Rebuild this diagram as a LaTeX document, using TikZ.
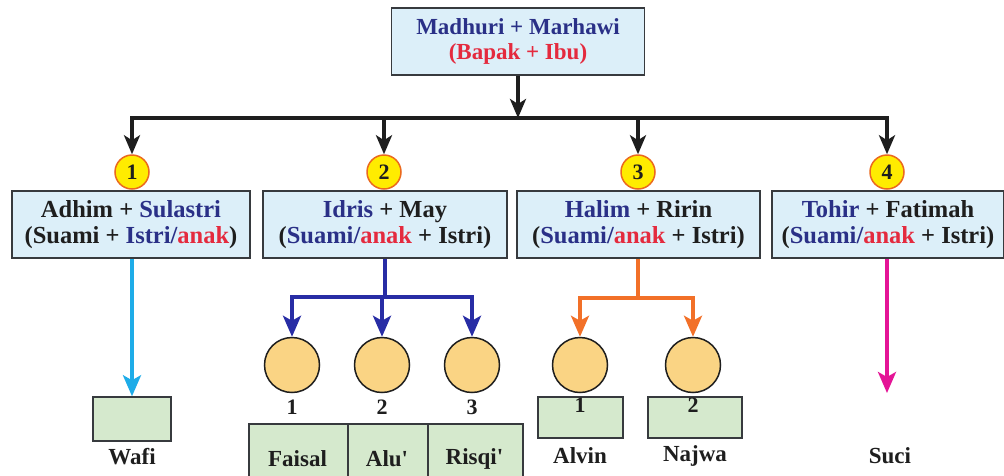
\documentclass[tikz,border=0pt]{standalone}
\usepackage{fontspec}
\setmainfont{Liberation Serif}
\usetikzlibrary{arrows.meta}
\definecolor{boxfill}{RGB}{220,239,249}
\definecolor{boxdraw}{RGB}{55,58,62}
\definecolor{nblue}{RGB}{42,48,135}
\definecolor{nred}{RGB}{228,42,62}
\definecolor{nblack}{RGB}{30,30,30}
\definecolor{gfill}{RGB}{213,233,205}
\definecolor{cfill}{RGB}{250,212,132}
\definecolor{ycirc}{RGB}{255,236,0}
\definecolor{ocirc}{RGB}{235,105,30}
\definecolor{lcyan}{RGB}{30,172,232}
\definecolor{lblue}{RGB}{40,45,165}
\definecolor{lorange}{RGB}{242,112,40}
\definecolor{lmag}{RGB}{228,20,150}
\begin{document}
\begin{tikzpicture}[x=1pt,y=-1pt,
  every node/.style={text=nblack},
  fam/.style={draw=boxdraw, line width=1.6pt, fill=boxfill, minimum height=67pt,
    align=center, inner sep=1pt, font=\bfseries\fontsize{24.5}{25.5}\selectfont},
  numc/.style={circle, fill=ycirc, draw=ocirc, line width=1.5pt, minimum size=34pt,
    inner sep=0pt, font=\bfseries\fontsize{22}{22}\selectfont},
  kid/.style={circle, fill=cfill, draw=nblack, line width=1.5pt, minimum size=55pt, inner sep=0pt},
  gbox/.style={draw=boxdraw, line width=1.5pt, fill=gfill, inner sep=0pt},
  lbl/.style={font=\bfseries\fontsize{23}{23}\selectfont, inner sep=0pt},
  knum/.style={font=\bfseries\fontsize{22}{22}\selectfont, inner sep=0pt},
  blk/.style={draw=nblack, line width=3.5pt},
  blkarr/.style={blk, -{Stealth[length=19pt,width=16pt,inset=5pt]}},
  colarr/.style={line width=3.5pt, -{Stealth[length=21pt,width=18pt,inset=5pt]}}
]
\useasboundingbox (0,0) rectangle (1004,475);
\fill[white] (0,0) rectangle (1004,475);

% top box
\node[fam, minimum width=253pt, font=\bfseries\fontsize{23}{25}\selectfont] (top) at (518,41.5)
  {\textcolor{nblue}{Madhuri + Marhawi}\\\textcolor{nred}{(Bapak + Ibu)}};

% family boxes
\node[fam, minimum width=238pt] (b1) at (131,224.5)
  {Adhim + \textcolor{nblue}{Sulastri}\\(Suami + \textcolor{nblue}{Istri/}\textcolor{nred}{anak})};
\node[fam, minimum width=244pt] (b2) at (385,224.5)
  {\textcolor{nblue}{Idris} + May\\(\textcolor{nblue}{Suami/}\textcolor{nred}{anak} + Istri)};
\node[fam, minimum width=243pt] (b3) at (638.5,224.5)
  {\textcolor{nblue}{Halim} + Ririn\\(\textcolor{nblue}{Suami/}\textcolor{nred}{anak} + Istri)};
\node[fam, minimum width=232pt] (b4) at (888,224.5)
  {\textcolor{nblue}{Tohir} + Fatimah\\(\textcolor{nblue}{Suami/}\textcolor{nred}{anak} + Istri)};

% number circles
\node[numc] (n1) at (132,172) {1};
\node[numc] (n2) at (384,172) {2};
\node[numc] (n3) at (638,172) {3};
\node[numc] (n4) at (887,172) {4};

% black connectors
\coordinate (bar) at (518,118);
\draw[blkarr] (top.south) -- (bar);
\draw[blk, line cap=rect] (n1 |- bar) -- (n4 |- bar);
\foreach \n in {n1,n2,n3,n4}{\draw[blkarr] (\n |- bar) -- (\n.north);}

% branch 1: Wafi
\node[gbox, minimum width=78pt, minimum height=44pt] (w) at (132,419) {};
\node[lbl] (wt) at (132,457) {Wafi};
\draw[colarr, lcyan] (b1.south -| w) -- (w.north);

% branch 2: Idris
\coordinate (bb) at (385,297);
\node[kid] (c21) at (292,365) {};
\node[kid] (c22) at (382,365) {};
\node[kid] (c23) at (472,365) {};
\node[knum] (k21) at (292,407) {1};
\node[knum] (k22) at (382,407) {2};
\node[knum] (k23) at (472,407) {3};
\draw[lblue, line width=3.5pt] (b2.south) -- (bb);
\draw[lblue, line width=3.5pt, line cap=rect] (c21 |- bb) -- (c23 |- bb);
\foreach \c in {c21,c22,c23}{\draw[colarr, lblue] (\c |- bb) -- (\c.north);}
\node[gbox, minimum width=99pt, minimum height=54pt, anchor=north west] (t1) at (248,423) {};
\node[gbox, minimum width=80pt, minimum height=54pt, anchor=north west] (t2) at (347,423) {};
\node[gbox, minimum width=95pt, minimum height=54pt, anchor=north west] (t3) at (427,423) {};
\node[lbl] (f1) at (297.5,459) {Faisal};
\node[lbl] (f2) at (387,459) {Alu\textquotesingle};
\node[lbl] (f3) at (474.5,459) {Risqi\textquotesingle};

% branch 3: Halim
\coordinate (ob) at (638,298);
\node[gbox, minimum width=85pt, minimum height=41pt] (a1) at (580.5,417.5) {};
\node[gbox, minimum width=94pt, minimum height=41pt] (a2) at (695,417.5) {};
\node[kid] (c31) at (580,365) {};
\node[kid] (c32) at (693,365) {};
\node[knum] (k31) at (580,405) {1};
\node[knum] (k32) at (693,405) {2};
\node[lbl] (al) at (580,456) {Alvin};
\node[lbl] (nj) at (695,456) {Najwa};
\draw[lorange, line width=3.5pt] (b3.south -| ob) -- (ob);
\draw[lorange, line width=3.5pt, line cap=rect] (c31 |- ob) -- (c32 |- ob);
\foreach \c in {c31,c32}{\draw[colarr, lorange] (\c |- ob) -- (\c.north);}

% branch 4: Tohir
\coordinate (sa) at (887,393);
\node[lbl] (su) at (890,456) {Suci};
\draw[colarr, lmag] (b4.south -| sa) -- (sa);
\end{tikzpicture}
\end{document}
